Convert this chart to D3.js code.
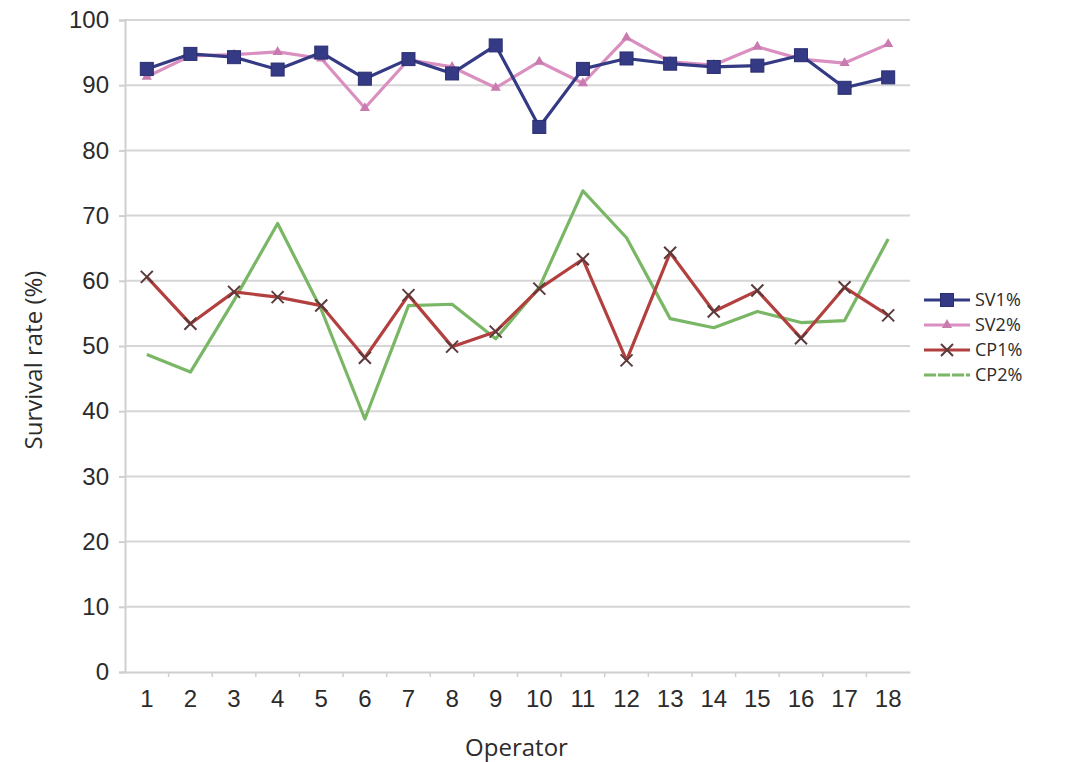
<!DOCTYPE html>
<html>
<head>
<meta charset="utf-8">
<script src="https://cdn.jsdelivr.net/npm/d3@7"></script>
<style>
  html, body { margin: 0; padding: 0; background: #fff; }
  svg { display: block; font-family: "Open Sans", "Noto Sans", sans-serif; }
</style>
</head>
<body>
<svg id="chart" width="1067" height="762"></svg>
<script>
// Operators on the x axis
const operators = [1, 2, 3, 4, 5, 6, 7, 8, 9, 10, 11, 12, 13, 14, 15, 16, 17, 18];

// Survival rate (%) per operator for each treatment
const sv1 = [92.5, 94.8, 94.3, 92.4, 95.0, 91.0, 94.0, 91.8, 96.1, 83.6, 92.5, 94.1, 93.3, 92.8, 93.0, 94.6, 89.6, 91.2];
const sv2 = [91.3, 94.5, 94.7, 95.1, 94.1, 86.5, 93.9, 92.8, 89.6, 93.6, 90.3, 97.3, 93.6, 93.1, 95.9, 94.0, 93.4, 96.3];
const cp1 = [60.6, 53.4, 58.3, 57.5, 56.2, 48.2, 57.8, 49.9, 52.2, 58.8, 63.3, 47.8, 64.3, 55.3, 58.5, 51.2, 59.0, 54.7];
const cp2 = [48.7, 46.0, 57.0, 68.8, 55.6, 38.8, 56.2, 56.4, 51.1, 59.0, 73.8, 66.6, 54.2, 52.8, 55.3, 53.6, 53.9, 66.4];

const seriesNames = ["SV1%", "SV2%", "CP1%", "CP2%"];
const yTicks = [0, 10, 20, 30, 40, 50, 60, 70, 80, 90, 100];

const colors = {
  "SV1%": "#353a85",
  "SV2%": "#d98fbf",
  "CP1%": "#b2403f",
  "CP2%": "#79b665"
};

const series = [
  { name: "SV1%", values: sv1, marker: "square" },
  { name: "SV2%", values: sv2, marker: "triangle" },
  { name: "CP1%", values: cp1, marker: "cross" },
  { name: "CP2%", values: cp2, marker: "none" }
];

const svg = d3.select("#chart");
const plot = { left: 125, right: 910, top: 20, bottom: 672 };
const textColor = "#2b2b2b";

const xBand = d3.scaleBand().domain(operators).range([plot.left, plot.right]);
const x = d => xBand(d) + xBand.bandwidth() / 2;
const y = d3.scaleLinear().domain([0, 100]).range([plot.bottom, plot.top]);

// Horizontal gridlines
svg.append("g")
  .selectAll("line")
  .data(yTicks.filter(t => t > 0))
  .join("line")
  .attr("x1", plot.left).attr("x2", plot.right)
  .attr("y1", d => y(d)).attr("y2", d => y(d))
  .attr("stroke", "#d6d6d6").attr("stroke-width", 2);

// Y axis
const yAxis = svg.append("g")
  .attr("transform", `translate(${plot.left},0)`)
  .call(d3.axisLeft(y).tickValues(yTicks).tickSize(6).tickPadding(10));
yAxis.select(".domain").attr("stroke", "#cfcfcf").attr("stroke-width", 2);
yAxis.selectAll(".tick line").attr("stroke", "#cfcfcf").attr("stroke-width", 2);
yAxis.selectAll(".tick text")
  .attr("fill", textColor).style("font-size", "24px");

// X axis, ticks sit on category boundaries
const xAxis = svg.append("g")
  .attr("transform", `translate(0,${plot.bottom})`)
  .call(d3.axisBottom(xBand).tickSize(0).tickPadding(18));
xAxis.select(".domain").attr("stroke", "#cfcfcf").attr("stroke-width", 2);
xAxis.selectAll(".tick text")
  .attr("fill", textColor).style("font-size", "24px");
svg.append("g")
  .selectAll("line")
  .data(operators.slice(1))
  .join("line")
  .attr("x1", d => xBand(d)).attr("x2", d => xBand(d))
  .attr("y1", plot.bottom).attr("y2", plot.bottom + 5)
  .attr("stroke", "#cfcfcf").attr("stroke-width", 1.5);

// Axis titles
svg.append("text")
  .attr("x", (plot.left + plot.right) / 2 - 1)
  .attr("y", 756)
  .attr("text-anchor", "middle")
  .attr("fill", textColor)
  .style("font-size", "24px")
  .text("Operator");

svg.append("text")
  .attr("transform", `translate(42,${(plot.top + plot.bottom) / 2 + 14}) rotate(-90)`)
  .attr("text-anchor", "middle")
  .attr("fill", textColor)
  .style("font-size", "24px")
  .text("Survival rate (%)");

// Marker drawing
function drawMarker(g, type, color, cx, cy) {
  if (type === "square") {
    g.append("rect")
      .attr("x", cx - 6.5).attr("y", cy - 6.5)
      .attr("width", 13).attr("height", 13)
      .attr("fill", color).attr("stroke", "#2a2e70").attr("stroke-width", 1);
  } else if (type === "triangle") {
    g.append("path")
      .attr("d", d3.symbol(d3.symbolTriangle, 45)())
      .attr("transform", `translate(${cx},${cy})`)
      .attr("fill", "#c97bb0");
  } else if (type === "cross") {
    const s = 6;
    g.append("path")
      .attr("d", `M${cx - s},${cy - s}L${cx + s},${cy + s}M${cx - s},${cy + s}L${cx + s},${cy - s}`)
      .attr("stroke", "#5a3a3a").attr("stroke-width", 2);
  }
}

const line = d3.line().x((d, i) => x(operators[i])).y(d => y(d));

// Draw series back to front so the SV lines stay on top
const drawOrder = ["CP2%", "CP1%", "SV2%", "SV1%"];
drawOrder.forEach(name => {
  const s = series.find(d => d.name === name);
  const g = svg.append("g");
  g.append("path")
    .datum(s.values)
    .attr("d", line)
    .attr("fill", "none")
    .attr("stroke", colors[s.name])
    .attr("stroke-width", 3.2)
    .attr("stroke-linejoin", "round");
  s.values.forEach((v, i) => drawMarker(g, s.marker, colors[s.name], x(operators[i]), y(v)));
});

// Legend
const legend = svg.append("g").attr("transform", "translate(924,300)");
seriesNames.forEach((name, i) => {
  const s = series.find(d => d.name === name);
  const row = legend.append("g").attr("transform", `translate(0,${i * 25})`);
  row.append("line")
    .attr("x1", 0).attr("x2", 46).attr("y1", 0).attr("y2", 0)
    .attr("stroke", colors[name]).attr("stroke-width", 3)
    .attr("stroke-dasharray", s.marker === "none" ? "12,2" : null);
  drawMarker(row, s.marker, colors[name], 23, 0);
  row.append("text")
    .attr("x", 51).attr("y", 0).attr("dy", "0.35em")
    .attr("fill", textColor)
    .style("font-size", "18px")
    .text(name);
});
</script>
</body>
</html>
